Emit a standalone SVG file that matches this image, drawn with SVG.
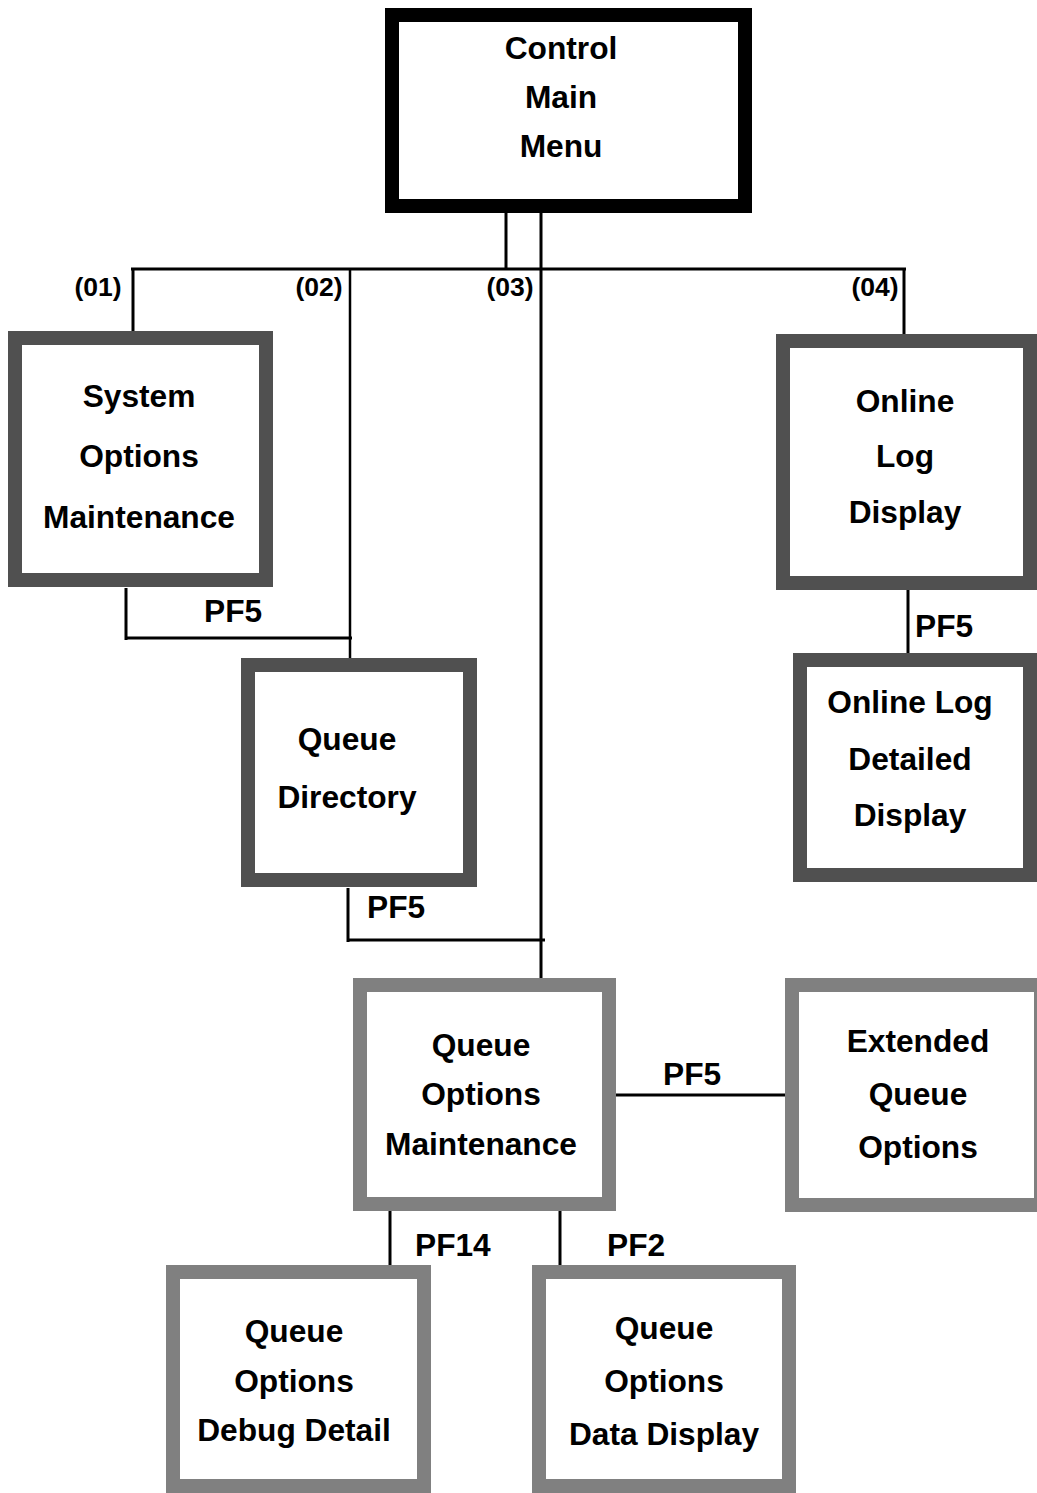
<svg xmlns="http://www.w3.org/2000/svg" width="1037" height="1493" viewBox="0 0 1037 1493">
<style>
.box{fill:#fff;stroke-width:14}
.k{stroke:#000}
.d{stroke:#505050}
.g{stroke:#808080}
.t{font-family:"Liberation Sans",Arial,sans-serif;font-weight:bold;font-size:31.7px;fill:#000;text-anchor:middle}
.lb{font-family:"Liberation Sans",Arial,sans-serif;font-weight:bold;font-size:26.5px;fill:#000;text-anchor:middle}
.pf{font-family:"Liberation Sans",Arial,sans-serif;font-weight:bold;font-size:31.7px;fill:#000}
.c{stroke:#000;stroke-width:3;fill:none}
</style>
<rect width="1037" height="1493" fill="#fff"/>
<g id="connectors">
<line class="c" x1="506" y1="213" x2="506" y2="269"/>
<line class="c" x1="541" y1="213" x2="541" y2="985"/>
<line class="c" x1="131" y1="269" x2="906" y2="269"/>
<line class="c" x1="133" y1="269" x2="133" y2="332"/>
<line class="c" x1="350" y1="269" x2="350" y2="662" style="stroke-width:2.5"/>
<line class="c" x1="904" y1="269" x2="904" y2="338"/>
<polyline class="c" points="126,588 126,640 126,638 352,638"/>
<polyline class="c" points="348,888 348,942 348,940 545,940"/>
<line class="c" x1="908" y1="590" x2="908" y2="655"/>
<line class="c" x1="616" y1="1095" x2="786" y2="1095"/>
<line class="c" x1="390" y1="1206" x2="390" y2="1268"/>
<line class="c" x1="560" y1="1206" x2="560" y2="1268"/>
<text class="lb" x="98" y="296">(01)</text>
<text class="lb" x="319" y="296">(02)</text>
<text class="lb" x="510" y="296">(03)</text>
<text class="lb" x="875" y="296">(04)</text>
<text class="pf" x="204" y="622">PF5</text>
<text class="pf" x="367" y="918">PF5</text>
<text class="pf" x="915" y="637">PF5</text>
<text class="pf" x="663" y="1085">PF5</text>
<text class="pf" x="415" y="1256">PF14</text>
<text class="pf" x="607" y="1256">PF2</text>
</g>
<g id="control-main-menu">
<rect class="box k" x="392" y="15" width="353" height="191"/>
<text class="t" x="561" y="59">Control</text>
<text class="t" x="561" y="108">Main</text>
<text class="t" x="561" y="157">Menu</text>
</g>
<g id="system-options-maintenance">
<rect class="box d" x="15" y="338" width="251" height="242"/>
<text class="t" x="139" y="407">System</text>
<text class="t" x="139" y="467">Options</text>
<text class="t" x="139" y="528">Maintenance</text>
</g>
<g id="queue-directory">
<rect class="box d" x="248" y="665" width="222" height="215"/>
<text class="t" x="347" y="750">Queue</text>
<text class="t" x="347" y="808">Directory</text>
</g>
<g id="online-log-display">
<rect class="box d" x="783" y="341" width="247" height="242"/>
<text class="t" x="905" y="412">Online</text>
<text class="t" x="905" y="467">Log</text>
<text class="t" x="905" y="523">Display</text>
</g>
<g id="online-log-detailed-display">
<rect class="box d" x="800" y="660" width="230" height="215"/>
<text class="t" x="910" y="713">Online Log</text>
<text class="t" x="910" y="770">Detailed</text>
<text class="t" x="910" y="826">Display</text>
</g>
<g id="queue-options-maintenance">
<rect class="box g" x="360" y="985" width="249" height="219"/>
<text class="t" x="481" y="1056">Queue</text>
<text class="t" x="481" y="1105">Options</text>
<text class="t" x="481" y="1155">Maintenance</text>
</g>
<g id="extended-queue-options">
<rect class="box g" x="792" y="985" width="249" height="220"/>
<text class="t" x="918" y="1052">Extended</text>
<text class="t" x="918" y="1105">Queue</text>
<text class="t" x="918" y="1158">Options</text>
</g>
<g id="queue-options-debug-detail">
<rect class="box g" x="173" y="1272" width="251" height="214"/>
<text class="t" x="294" y="1342">Queue</text>
<text class="t" x="294" y="1392">Options</text>
<text class="t" x="294" y="1441">Debug Detail</text>
</g>
<g id="queue-options-data-display">
<rect class="box g" x="539" y="1272" width="250" height="214"/>
<text class="t" x="664" y="1339">Queue</text>
<text class="t" x="664" y="1392">Options</text>
<text class="t" x="664" y="1445">Data Display</text>
</g>
</svg>
